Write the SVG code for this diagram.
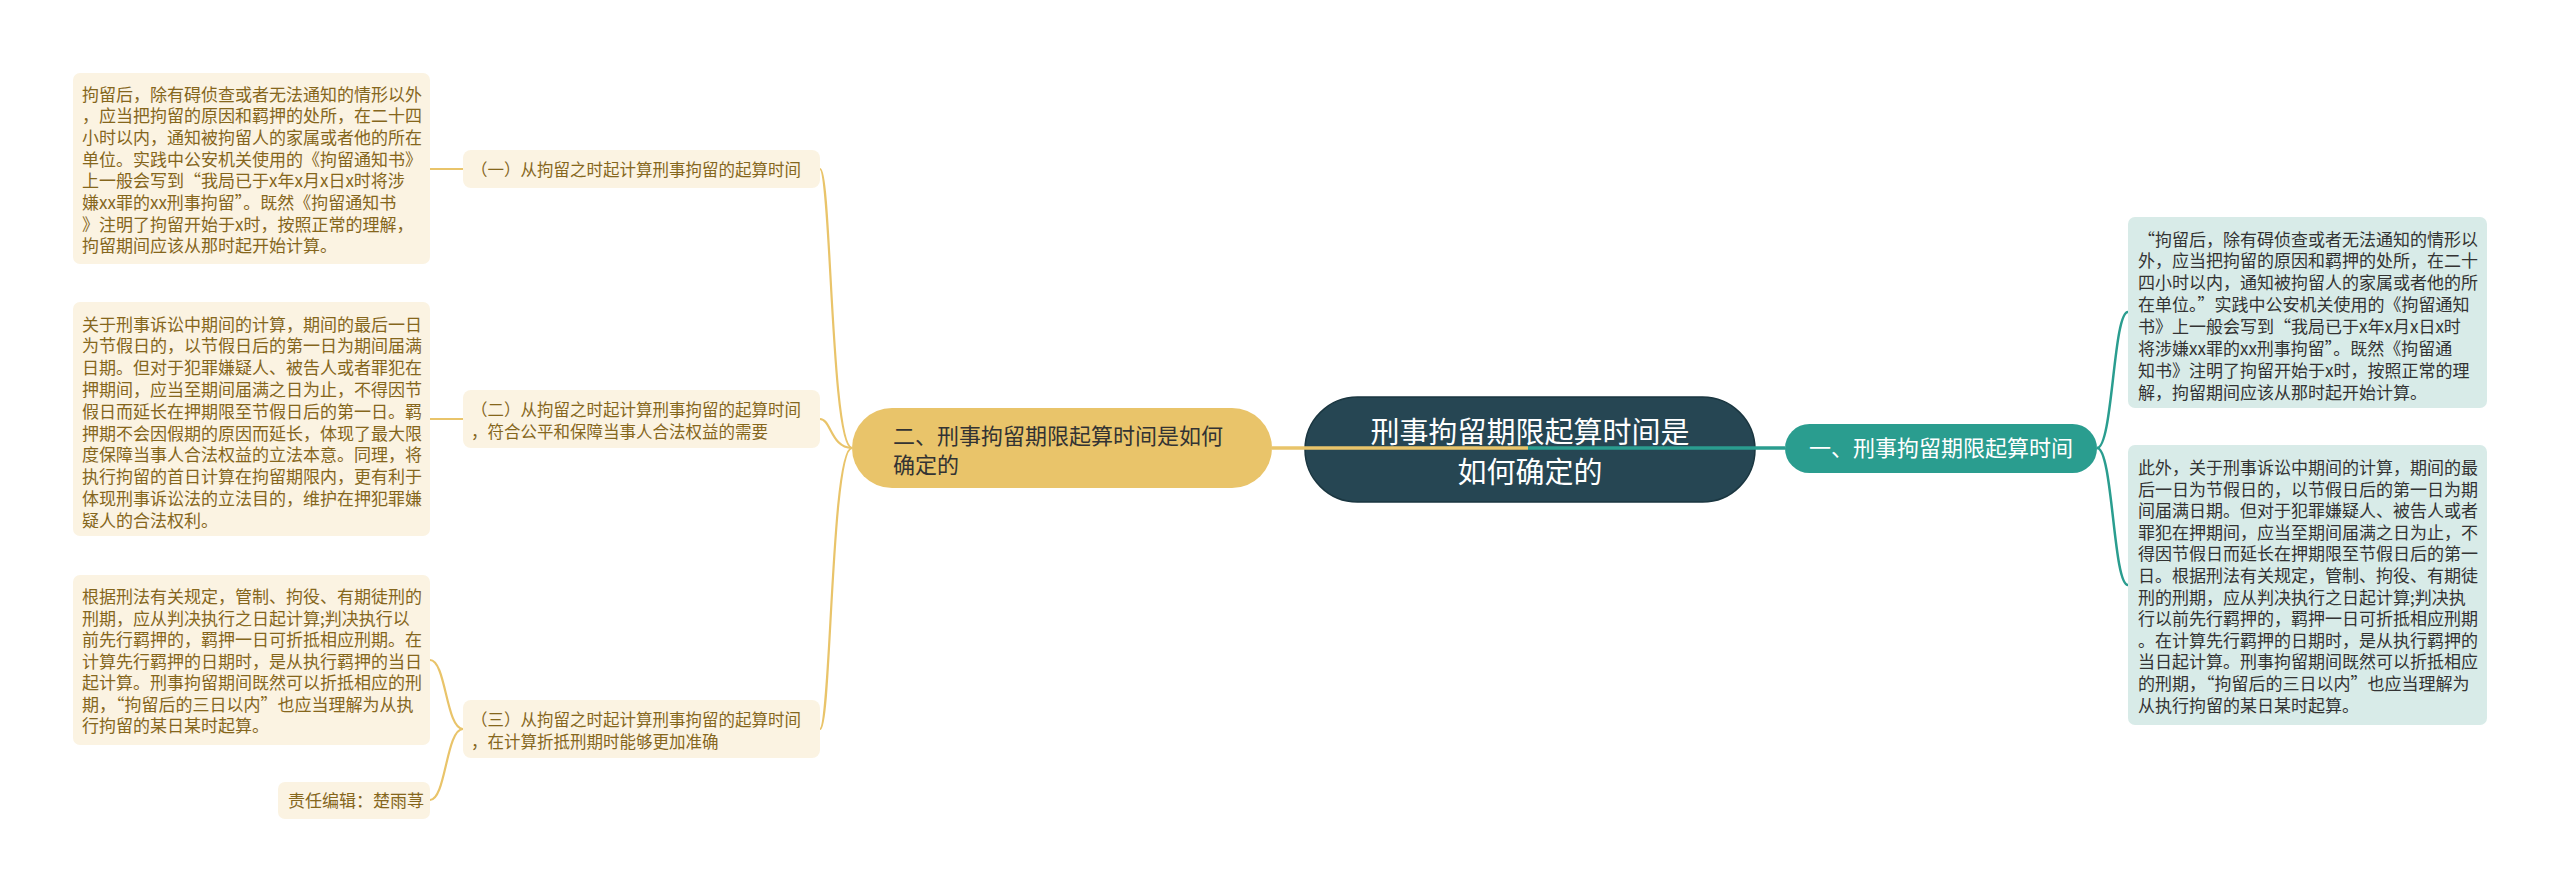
<svg xmlns="http://www.w3.org/2000/svg" width="2560" height="893" viewBox="0 0 2560 893">
<style>
text{font-family:"Noto Sans CJK SC","Noto Sans",sans-serif;}
.leafL{fill:#fbf3e2;}
.leafR{fill:#d8ebe8;}
.tL{fill:#85661c;font-size:17px;}
.tR{fill:#333333;font-size:17px;}
.sub{fill:#fbf3e2;}
.tS{fill:#85661c;font-size:16.5px;}
.cy{fill:none;stroke:#e9c46a;stroke-width:2.2;}
.ct{fill:none;stroke:#2a9d8f;stroke-width:2.5;}
</style>
<rect width="2560" height="893" fill="#ffffff"/>

<g id="root">
<rect x="1305" y="397" width="450" height="105" rx="52.5" fill="#264653" stroke="#1a3640" stroke-width="1.5"/>
<text x="1530" y="443" text-anchor="middle" fill="#ffffff" font-size="29">刑事拘留期限起算时间是</text>
<text x="1530" y="483" text-anchor="middle" fill="#ffffff" font-size="29">如何确定的</text>
</g>

<g id="branch-right">
<rect x="1785" y="424" width="312" height="49" rx="24.5" fill="#2a9d8f"/>
<text x="1941" y="456" text-anchor="middle" fill="#ffffff" font-size="22">一、刑事拘留期限起算时间</text>
</g>

<g id="branch-left">
<rect x="852" y="408" width="420" height="80" rx="40" fill="#e9c46a"/>
<text x="893" y="444" fill="#333333" font-size="22">二、刑事拘留期限起算时间是如何</text>
<text x="893" y="473" fill="#333333" font-size="22">确定的</text>
</g>

<g id="sub1">
<rect class="sub" x="463" y="150" width="357" height="38" rx="8"/>
<text class="tS" x="471" y="176">（一）从拘留之时起计算刑事拘留的起算时间</text>
</g>
<g id="sub2">
<rect class="sub" x="463" y="390" width="357" height="58" rx="8"/>
<text class="tS" x="471" y="416">（二）从拘留之时起计算刑事拘留的起算时间</text>
<text class="tS" x="471" y="438">，符合公平和保障当事人合法权益的需要</text>
</g>
<g id="sub3">
<rect class="sub" x="463" y="700" width="357" height="58" rx="8"/>
<text class="tS" x="471" y="726">（三）从拘留之时起计算刑事拘留的起算时间</text>
<text class="tS" x="471" y="748">，在计算折抵刑期时能够更加准确</text>
</g>

<g id="leafL1">
<rect class="leafL" x="73" y="73" width="357" height="191" rx="7"/>
<text class="tL" x="82" y="100.5">拘留后，除有碍侦查或者无法通知的情形以外</text>
<text class="tL" x="82" y="122.2">，应当把拘留的原因和羁押的处所，在二十四</text>
<text class="tL" x="82" y="143.9">小时以内，通知被拘留人的家属或者他的所在</text>
<text class="tL" x="82" y="165.6">单位。实践中公安机关使用的《拘留通知书》</text>
<text class="tL" x="82" y="187.3">上一般会写到“我局已于x年x月x日x时将涉</text>
<text class="tL" x="82" y="209">嫌xx罪的xx刑事拘留”。既然《拘留通知书</text>
<text class="tL" x="82" y="230.7">》注明了拘留开始于x时，按照正常的理解，</text>
<text class="tL" x="82" y="252.4">拘留期间应该从那时起开始计算。</text>
</g>

<g id="leafL2">
<rect class="leafL" x="73" y="302" width="357" height="234" rx="7"/>
<text class="tL" x="82" y="330.5">关于刑事诉讼中期间的计算，期间的最后一日</text>
<text class="tL" x="82" y="352.3">为节假日的，以节假日后的第一日为期间届满</text>
<text class="tL" x="82" y="374.1">日期。但对于犯罪嫌疑人、被告人或者罪犯在</text>
<text class="tL" x="82" y="395.9">押期间，应当至期间届满之日为止，不得因节</text>
<text class="tL" x="82" y="417.7">假日而延长在押期限至节假日后的第一日。羁</text>
<text class="tL" x="82" y="439.5">押期不会因假期的原因而延长，体现了最大限</text>
<text class="tL" x="82" y="461.3">度保障当事人合法权益的立法本意。同理，将</text>
<text class="tL" x="82" y="483.1">执行拘留的首日计算在拘留期限内，更有利于</text>
<text class="tL" x="82" y="504.9">体现刑事诉讼法的立法目的，维护在押犯罪嫌</text>
<text class="tL" x="82" y="526.7">疑人的合法权利。</text>
</g>

<g id="leafL3">
<rect class="leafL" x="73" y="575" width="357" height="170" rx="7"/>
<text class="tL" x="82" y="603">根据刑法有关规定，管制、拘役、有期徒刑的</text>
<text class="tL" x="82" y="624.5">刑期，应从判决执行之日起计算;判决执行以</text>
<text class="tL" x="82" y="646">前先行羁押的，羁押一日可折抵相应刑期。在</text>
<text class="tL" x="82" y="667.5">计算先行羁押的日期时，是从执行羁押的当日</text>
<text class="tL" x="82" y="689">起计算。刑事拘留期间既然可以折抵相应的刑</text>
<text class="tL" x="82" y="710.5">期，“拘留后的三日以内”也应当理解为从执</text>
<text class="tL" x="82" y="732">行拘留的某日某时起算。</text>
</g>

<g id="editor">
<rect class="leafL" x="278" y="782" width="152" height="37" rx="7"/>
<text class="tL" x="288" y="807">责任编辑：楚雨荨</text>
</g>

<g id="leafR1">
<rect class="leafR" x="2128" y="217" width="359" height="191" rx="7"/>
<text class="tR" x="2138" y="245.5">“拘留后，除有碍侦查或者无法通知的情形以</text>
<text class="tR" x="2138" y="267.4">外，应当把拘留的原因和羁押的处所，在二十</text>
<text class="tR" x="2138" y="289.3">四小时以内，通知被拘留人的家属或者他的所</text>
<text class="tR" x="2138" y="311.2">在单位。”实践中公安机关使用的《拘留通知</text>
<text class="tR" x="2138" y="333.1">书》上一般会写到“我局已于x年x月x日x时</text>
<text class="tR" x="2138" y="355">将涉嫌xx罪的xx刑事拘留”。既然《拘留通</text>
<text class="tR" x="2138" y="376.9">知书》注明了拘留开始于x时，按照正常的理</text>
<text class="tR" x="2138" y="398.8">解，拘留期间应该从那时起开始计算。</text>
</g>

<g id="leafR2">
<rect class="leafR" x="2128" y="445" width="359" height="280" rx="7"/>
<text class="tR" x="2138" y="474">此外，关于刑事诉讼中期间的计算，期间的最</text>
<text class="tR" x="2138" y="495.6">后一日为节假日的，以节假日后的第一日为期</text>
<text class="tR" x="2138" y="517.2">间届满日期。但对于犯罪嫌疑人、被告人或者</text>
<text class="tR" x="2138" y="538.8">罪犯在押期间，应当至期间届满之日为止，不</text>
<text class="tR" x="2138" y="560.4">得因节假日而延长在押期限至节假日后的第一</text>
<text class="tR" x="2138" y="582">日。根据刑法有关规定，管制、拘役、有期徒</text>
<text class="tR" x="2138" y="603.6">刑的刑期，应从判决执行之日起计算;判决执</text>
<text class="tR" x="2138" y="625.2">行以前先行羁押的，羁押一日可折抵相应刑期</text>
<text class="tR" x="2138" y="646.8">。在计算先行羁押的日期时，是从执行羁押的</text>
<text class="tR" x="2138" y="668.4">当日起计算。刑事拘留期间既然可以折抵相应</text>
<text class="tR" x="2138" y="690">的刑期，“拘留后的三日以内”也应当理解为</text>
<text class="tR" x="2138" y="711.6">从执行拘留的某日某时起算。</text>
</g>

<g id="connectors">
<path d="M1528,448 L1272,448" fill="none" stroke="#e9c46a" stroke-width="3.5"/>
<path d="M1528,448 L1785,448" fill="none" stroke="#2a9d8f" stroke-width="3.5"/>
<path class="cy" d="M852,448 C831,448 831,169 820,169"/>
<path class="cy" d="M852,448 C831,448 831,419 820,419"/>
<path class="cy" d="M852,448 C831,448 831,729 820,729"/>
<path class="cy" d="M463,169 L430,169"/>
<path class="cy" d="M463,419 C447,419 447,419 430,419"/>
<path class="cy" d="M463,729 C446,729 446,660 430,660"/>
<path class="cy" d="M463,729 C446,729 446,800 430,800"/>
<path class="ct" d="M2097,448 C2113,448 2113,312 2128,312"/>
<path class="ct" d="M2097,448 C2113,448 2113,585 2128,585"/>
</g>
</svg>
